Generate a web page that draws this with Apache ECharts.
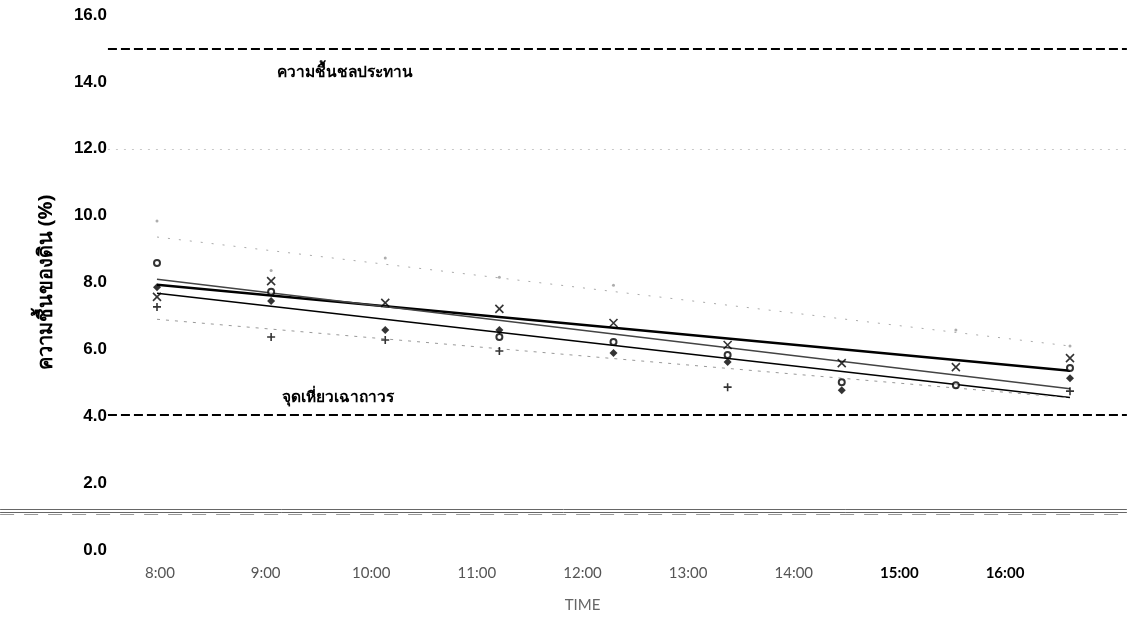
<!DOCTYPE html>
<html>
<head>
<meta charset="utf-8">
<script src="https://cdn.jsdelivr.net/npm/echarts@6/dist/echarts.min.js"></script>
<style>
html, body { margin: 0; background: #fff; }
#chart { width: 1127px; height: 623px; }
</style>
</head>
<body>
<div id="chart"></div>
<script>
// soil moisture readings, 8:00 - 16:00
const hours = [8, 9, 10, 11, 12, 13, 14, 15, 16];
const timeLabels = ["8:00", "9:00", "10:00", "11:00", "12:00", "13:00", "14:00", "15:00", "16:00"];
const crossVals = [7.57, 8.04, 7.39, 7.21, 6.79, 6.13, 5.59, 5.47, 5.74];
const circleVals = [8.58, 7.72, null, 6.37, 6.22, 5.83, 5.02, 4.93, 5.44];
const diamondVals = [7.86, 7.45, 6.58, 6.58, 5.89, 5.62, 4.78, null, 5.14];
const plusVals = [7.27, 6.37, 6.28, 5.95, null, 4.87, null, null, 4.75];
const faintVals = [9.84, 8.36, 8.73, 8.16, 7.92, null, null, 6.58, 6.1];

// fitted lines, value at 8:00 and at 16:00
const trendCross = [7.93, 5.36];
const trendCircle = [8.1, 4.82];
const trendDiamond = [7.68, 4.56];
const trendPlus = [6.9, 4.55];
const trendFaint = [9.36, 6.1];

const fieldCapacity = 15.0;
const wiltingPoint = 4.05;
const fieldCapacityLabel = "ความชื้นชลประทาน";
const wiltingPointLabel = "จุดเหี่ยวเฉาถาวร";

const crossSym = "path://M0,0L10,10M10,0L0,10";
const plusSym = "path://M5,0L5,10M0,5L10,5";

const xMin = 6.6243;
const xMax = 16.4995;

const pts = (vals) => hours.map((h, i) => [h, vals[i]]);
const ends = (t) => [[hours[0], t[0]], [hours[hours.length - 1], t[1]]];

function markerSeries(name, vals, symbol, size, style) {
    return {
        name, type: "scatter", data: pts(vals).filter((p) => p[1] != null),
        symbol, symbolSize: size, itemStyle: style, z: 5,
    };
}

function trendSeries(name, t, lineStyle) {
    return {
        name, type: "line", data: ends(t), symbol: "none",
        lineStyle, z: 4, silent: true,
    };
}

// markers outside the axis extent get dropped, so keep ends inside it
const hline = (x0, x1, y, style) => [{ coord: [x0, y], lineStyle: style }, { coord: [x1, y] }];
const dashStyle = { color: "#000", width: 2, type: [9, 4] };

const crossFit = trendSeries("fit-cross", trendCross, { color: "#000", width: 2.5 });
crossFit.markLine = {
    symbol: "none", silent: true, label: { show: false }, animation: false,
    data: [
        hline(7.57, xMax - 0.001, fieldCapacity, dashStyle),
        hline(7.57, xMax - 0.001, wiltingPoint, dashStyle),
        hline(7.57, xMax - 0.001, 12, { color: "#c8c8c8", width: 1, type: [2, 6] }),
        hline(xMin + 0.001, xMax - 0.001, 1.23, { color: "#666", width: 1, type: "solid" }),
        hline(xMin + 0.001, xMax - 0.001, 1.14, { color: "#666", width: 1, type: "solid" }),
        hline(xMin + 0.001, xMax - 0.001, 1.06, { color: "#999", width: 1, type: [14, 10] }),
    ],
};
crossFit.markPoint = {
    symbol: "rect", symbolSize: 1, silent: true,
    itemStyle: { color: "transparent" },
    label: {
        show: true, position: "inside", fontFamily: "Noto Sans", fontSize: 15.5,
        fontWeight: "bold", color: "#000",
    },
    data: [
        { coord: [9.65, 14.29], value: 0, label: { formatter: fieldCapacityLabel } },
        { coord: [9.59, 4.55], value: 0, label: { formatter: wiltingPointLabel } },
    ],
};

const chart = echarts.init(document.getElementById("chart"), null, { renderer: "canvas" });

chart.setOption({
    backgroundColor: "#fff",
    animation: false,
    grid: [
        { left: 0, right: 0, top: 15, bottom: 73 },
        { left: 160, right: 122, top: 560, height: 1 },
    ],
    xAxis: [
        { type: "value", gridIndex: 0, min: xMin, max: xMax, show: false },
        {
            type: "value", gridIndex: 1, min: 8, max: 16, interval: 1,
            axisLine: { show: false }, axisTick: { show: false }, splitLine: { show: false },
            axisLabel: {
                margin: 5, fontFamily: "Lato", fontSize: 15, color: "#555",
                formatter: (v) => {
                    const t = timeLabels[v - 8] || "";
                    return v >= 15 ? "{b|" + t + "}" : t;
                },
                rich: { b: { fontFamily: "Lato", fontSize: 15, fontWeight: "bold", color: "#000" } },
            },
            name: "TIME", nameLocation: "middle", nameGap: 37,
            nameTextStyle: { fontFamily: "Lato", fontSize: 15, color: "#666" },
        },
    ],
    yAxis: [
        {
            type: "value", gridIndex: 0, min: 0, max: 16, interval: 2, offset: -110,
            axisLine: { show: false }, axisTick: { show: false }, splitLine: { show: false },
            axisLabel: {
                margin: 3, fontFamily: "Liberation Sans", fontSize: 17, fontWeight: "bold", color: "#000",
                formatter: (v) => v.toFixed(1),
            },
            name: "ความชื้นของดิน (%)", nameLocation: "middle", nameGap: 54, nameRotate: 90,
            nameTextStyle: { fontFamily: "Noto Sans", fontSize: 20, fontWeight: "bold", color: "#000" },
        },
        { type: "value", gridIndex: 1, show: false },
    ],
    series: [
        crossFit,
        trendSeries("fit-circle", trendCircle, { color: "#444", width: 1.5 }),
        trendSeries("fit-diamond", trendDiamond, { color: "#000", width: 1.5 }),
        trendSeries("fit-plus", trendPlus, { color: "#999", width: 1, type: [3, 6] }),
        trendSeries("fit-faint", trendFaint, { color: "#aaa", width: 1, type: [2, 9] }),
        markerSeries("cross", crossVals, crossSym, 8, { color: "none", borderColor: "#000", borderWidth: 1.6 }),
        markerSeries("circle", circleVals, "emptyCircle", 6, { color: "#000", borderWidth: 2 }),
        markerSeries("diamond", diamondVals, "diamond", 8, { color: "#000" }),
        markerSeries("plus", plusVals, plusSym, 8, { color: "none", borderColor: "#000", borderWidth: 1.6 }),
        markerSeries("faint", faintVals, "circle", 3, { color: "#999" }),
    ],
});
</script>
</body>
</html>
